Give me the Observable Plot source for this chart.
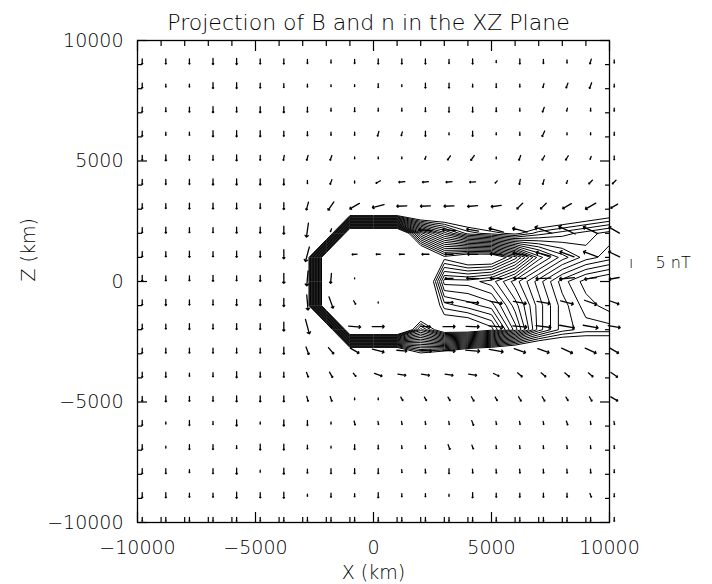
<!DOCTYPE html>
<html><head><meta charset="utf-8">
<script src="https://cdn.jsdelivr.net/npm/d3@7"></script>
<script src="https://cdn.jsdelivr.net/npm/@observablehq/plot@0.6"></script>
<style>body{margin:0;background:#fff}</style>
</head><body><div id="chart"></div>
<script>
// ---- text ----
const titleText = "Projection of B and n in the XZ Plane";
const xLabel = "X (km)";
const zLabel = "Z (km)";
const scaleMark = "ı";
const scaleLabel = "5 nT";

// ---- axis ticks ----
const majorTicks = [-10000, -5000, 0, 5000, 10000];
const minorTicks = [-9000,-8000,-7000,-6000,-4000,-3000,-2000,-1000,1000,2000,3000,4000,6000,7000,8000,9000];

// ---- B field arrows (columns / rows of the vector grid, km) ----
const arrowX = [-9800,-8800,-7800,-6800,-5800,-4800,-3800,-2800,-1800,-800,200,1200,2200,3200,4200,5200,6200,7200,8200,9200,10200];
const arrowZ = [9130,8130,7130,6130,5130,4130,3130,2130,1130,130,-870,-1870,-2870,-3870,-4870,-5870,-6870,-7870,-8870,-9870];
// arrow length (nT, drawn 1 px per nT), one row per arrowZ
const bLen = [
 [5,5,5,6,6,5,5,4,3,4, 5,5,5,4,5,2,5,4,3,5,3],
 [5,3,3,6,6,5,4,3,2,2, 4,2,5,5,3,4,3,4,5,6,3],
 [5,4,5,6,5,6,6,5,3,4, 3,3,4,5,5,4,3,5,3,3,3],
 [5,3,3,6,6,6,5,4,3,3, 5,4,5,2,5,2,3,6,2,2,3],
 [5,6,5,5,6,5,5,5,5,2, 2,2,3,5,6,2,5,5,5,3,4],
 [5,5,5,6,6,6,6,3,5,2, 5,6,6,6,6,3,5,5,3,5,5],
 [5,5,6,6,6,5,7,8,10,11, 12,10,10,10,10,10,8,8,10,12,8],
 [5,6,5,5,6,6,8,14,3,0, 0,0,13,13,12,15,15,18,18,16,12],
 [5,5,6,5,6,6,9,15,0,5, 4,5,7,8,10,12,14,15,15,15,12],
 [6,5,5,6,5,6,10,15,10,1, 0,0,0,8,12,12,12,15,15,12,10],
 [5,6,5,5,6,6,8,15,12,4, 1,0,0,8,12,12,13,13,13,13,10],
 [5,5,6,5,6,6,9,15,3,12, 12,0,10,12,13,14,14,15,15,15,12],
 [5,5,5,5,5,5,7,8,8,10, 12,10,12,12,14,14,12,12,12,12,10],
 [5,5,3,4,6,5,5,5,6,4, 8,8,8,8,8,6,6,6,6,6,8],
 [5,6,5,5,6,6,6,5,5,2, 2,4,4,4,5,4,5,5,4,5,8],
 [5,2,5,3,6,2,6,5,2,4, 3,3,3,3,5,3,3,3,4,3,3],
 [5,2,5,5,3,6,6,4,2,5, 4,3,3,5,4,3,3,3,3,3,3],
 [5,5,3,5,6,2,6,4,5,5, 5,3,4,5,4,4,4,4,4,4,3],
 [5,5,4,4,6,5,6,2,4,3, 5,3,3,2,5,4,4,4,4,4,3],
 [4,4,4,4,4,4,4,4,4,4, 4,4,4,4,4,4,4,4,4,4,4]
];
// arrow direction (degrees clockwise from +Z), one row per arrowZ
const bAng = [
 [180,180,180,180,180,180,180,180,180,180, 180,180,180,180,180,180,180,180,180,195,180],
 [180,180,180,180,180,180,180,180,180,180, 180,180,180,180,180,180,180,195,200,200,180],
 [180,180,180,180,180,180,180,180,180,180, 180,180,180,180,180,180,180,200,195,180,180],
 [180,180,180,180,180,180,180,180,180,180, 195,195,180,180,180,180,180,205,180,180,180],
 [180,180,180,180,180,180,190,195,200,180, 180,180,200,215,215,180,200,210,210,200,180],
 [180,180,180,180,180,180,180,180,200,180, 240,265,265,265,268,225,190,195,200,225,225],
 [180,180,180,180,180,180,180,195,215,240, 255,268,268,268,265,262,225,225,240,240,240],
 [180,180,180,180,180,180,180,188,200,180, 180,180,275,275,280,285,285,290,295,295,300],
 [180,180,180,180,180,180,180,195,180,265, 270,270,270,270,272,275,280,285,290,290,295],
 [180,180,180,180,180,180,180,185,185,180, 180,180,180,270,272,272,270,268,265,262,260],
 [180,180,180,180,180,180,180,175,160,150, 180,180,180,90,95,100,100,100,105,110,110],
 [180,180,180,180,180,180,180,165,160,95, 90,90,95,90,92,95,95,97,100,100,100],
 [180,180,180,180,180,180,180,160,140,120, 105,95,95,95,95,100,110,110,115,115,120],
 [180,180,180,180,180,180,180,160,150,140, 110,100,100,100,100,115,130,130,130,130,125],
 [180,180,180,180,180,180,180,165,160,180, 180,150,150,150,150,150,150,150,150,150,120],
 [180,180,180,180,180,180,180,180,180,165, 170,170,170,170,160,170,170,170,160,170,170],
 [180,180,180,180,180,180,180,180,180,180, 180,175,175,160,160,175,175,175,175,175,175],
 [180,180,180,180,180,180,180,180,180,180, 180,175,175,180,175,175,175,175,175,175,180],
 [180,180,180,180,180,180,180,180,180,180, 180,180,180,180,180,180,180,180,180,160,180],
 [180,180,180,180,180,180,180,180,180,180, 180,180,180,180,180,180,180,180,180,180,180]
];

// ---- density n (contoured) ----
const nLevels = [3.25,3.75,4.25,4.75,5.25,5.75,6.25,6.75,7.25,7.75,8.25,8.75,9.25,9.75,10.25,10.75,11.25,11.75];
const nBackground = 16;             // undisturbed density (above every level)
const nGridX = [-4000,-3000,-2000,-1000,0,1000,2000,3000,4000,5000,6000,7000,8000,9000,10000,11000];
const nGridZ = [4000,3000,2000,1000,0,-1000,-2000,-3000,-4000];
const nNear = [
 [16,16,16,16,16,16,16,16,16,16,16,16,16,16,16,16],
 [16,16,16,16,16,16,16,15,14,14.5,15,14.5,14,13.5,13,13],
 [16,16,16,0,0,0,6.5,9,11,11.5,12,11,10.5,10,9.5,9.5],
 [16,16,0,0,0,0,0,3,2,2,4,7,8.5,9.5,10,10],
 [16,16,0,0,0,0,0,6,6,6.5,8,9.5,11,12,12.5,12.5],
 [16,16,0,0,0,0,0,4,4.5,5,7,9,10.5,11.5,12,12],
 [16,16,16,0,0,0,5,2,2,3,6,9,10.5,11,11,11],
 [16,16,16,16,16,16,12,13,14.5,15,15,15,14.5,14,14,14],
 [16,16,16,16,16,16,16,16,16,16,16,16,16,16,16,16]
];

// build the full 23x23 grid (centres at -11000..11000 km) for Plot.contour
const G = 23, step = 1000, g0 = -11000;
const nGrid = [];
for (let r = 0; r < G; r++) {
  const z = -g0 - r * step;
  const zi = nGridZ.indexOf(z);
  for (let c = 0; c < G; c++) {
    const x = g0 + c * step;
    const xi = nGridX.indexOf(x);
    nGrid.push(zi >= 0 && xi >= 0 ? nNear[zi][xi] : nBackground);
  }
}

const vecs = [];
arrowZ.forEach((z, r) => arrowX.forEach((x, c) => {
  if (bLen[r][c] > 0) vecs.push({x, z, len: bLen[r][c], ang: bAng[r][c]});
}));

const fmt = d => d < 0 ? "\u2212" + Math.abs(d) : String(d);
const blank = () => "";
const tk = {label: null, tickFormat: blank, stroke: "black", strokeWidth: 1.2};

const chart = Plot.plot({
  width: 712, height: 584,
  marginLeft: 137, marginRight: 103, marginTop: 40, marginBottom: 62,
  x: {domain: [-10000, 10000], axis: null},
  y: {domain: [-10000, 10000], axis: null},
  length: {type: "identity"},
  style: {fontFamily: "'DejaVu Sans', sans-serif", fontSize: "19px", fontWeight: 200, color: "black", background: "white"},
  marks: [
    Plot.contour(nGrid, {
      width: G, height: G,
      x1: g0 - step / 2, x2: -g0 + step / 2,
      y1: -g0 + step / 2, y2: g0 - step / 2,
      value: d => d,
      thresholds: nLevels,
      fill: "none", stroke: "black", strokeWidth: 1,
      clip: true
    }),
    Plot.vector(vecs, {x: "x", y: "z", length: "len", rotate: "ang", anchor: "middle", r: 2, stroke: "black", strokeWidth: 1.3}),
    Plot.frame({stroke: "black", strokeWidth: 1.3}),
    // inward tick marks on all four sides
    Plot.axisX({...tk, anchor: "bottom", ticks: majorTicks, tickSize: 10, dy: -10}),
    Plot.axisX({...tk, anchor: "bottom", ticks: minorTicks, tickSize: 5, dy: -5}),
    Plot.axisX({...tk, anchor: "top", ticks: majorTicks, tickSize: 10, dy: 10}),
    Plot.axisX({...tk, anchor: "top", ticks: minorTicks, tickSize: 5, dy: 5}),
    Plot.axisY({...tk, anchor: "left", ticks: majorTicks, tickSize: 10, dx: 10}),
    Plot.axisY({...tk, anchor: "left", ticks: minorTicks, tickSize: 5, dx: 5}),
    Plot.axisY({...tk, anchor: "right", ticks: majorTicks, tickSize: 10, dx: -10}),
    Plot.axisY({...tk, anchor: "right", ticks: minorTicks, tickSize: 5, dx: -5}),
    // tick labels
    Plot.axisX({anchor: "bottom", ticks: majorTicks, tickSize: 0, tickPadding: 18, tickFormat: fmt, fontSize: 19, fill: "black", label: null}),
    Plot.axisY({anchor: "left", ticks: majorTicks, tickSize: 0, tickPadding: 14, tickFormat: fmt, fontSize: 19, fill: "black", label: null}),
    // titles
    Plot.text([titleText], {frameAnchor: "top", dy: -26, dx: -5, fontSize: 22, fill: "black"}),
    Plot.text([xLabel], {frameAnchor: "bottom", dy: 56, fontSize: 19, fill: "black"}),
    Plot.text([zLabel], {frameAnchor: "left", dx: -109, rotate: -90, fontSize: 19, fill: "black"}),
    Plot.text([scaleMark], {frameAnchor: "right", dx: 24, dy: -19, fontSize: 16, fill: "black"}),
    Plot.text([scaleLabel], {frameAnchor: "right", dx: 46, dy: -19, textAnchor: "start", fontSize: 16, fill: "black"})
  ]
});
document.getElementById("chart").appendChild(chart);
</script>
</body></html>
